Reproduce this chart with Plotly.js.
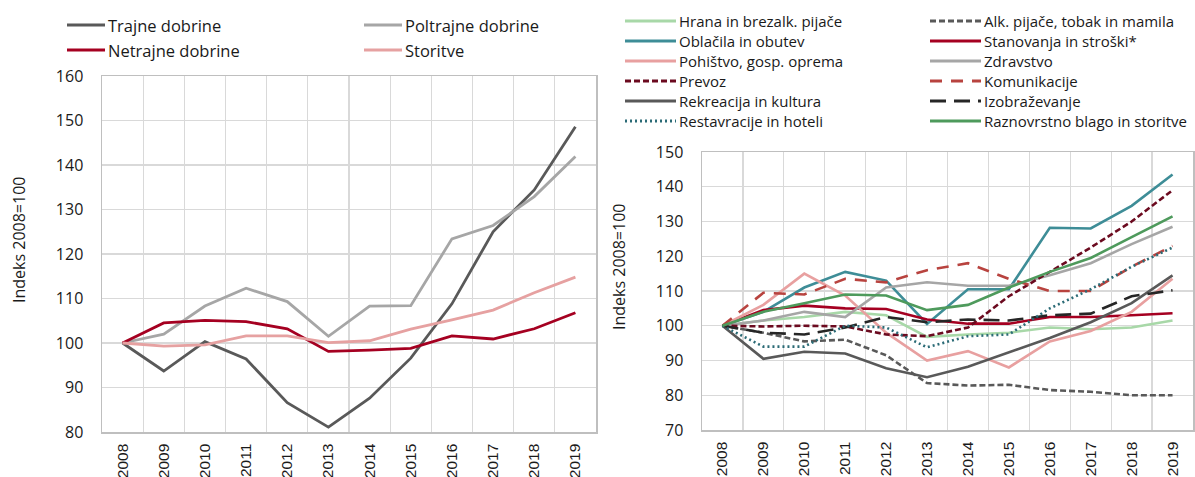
<!DOCTYPE html>
<html>
<head>
<meta charset="utf-8">
<script src="https://cdn.plot.ly/plotly-3.0.1.min.js"></script>
<style>html,body{margin:0;padding:0;background:#fff;}#chart{width:1195px;height:477px;}</style>
</head>
<body>
<div id="chart"></div>
<script>
// ---- data ----
const years = ["2008","2009","2010","2011","2012","2013","2014","2015","2016","2017","2018","2019"];

// left panel
const trajne    = [100, 93.7, 100.3, 96.4, 86.6, 81.1, 87.6, 96.6, 108.8, 125.0, 134.4, 148.6];
const poltrajne = [100, 102.0, 108.3, 112.3, 109.3, 101.5, 108.3, 108.4, 123.4, 126.4, 132.9, 141.9];
const netrajne  = [100, 104.5, 105.1, 104.8, 103.2, 98.1, 98.4, 98.8, 101.6, 100.9, 103.2, 106.8];
const storitve  = [100, 99.3, 99.6, 101.6, 101.6, 100.1, 100.5, 103.1, 105.2, 107.4, 111.3, 114.8];

// right panel
const hrana         = [100, 101.5, 102.5, 104.0, 103.0, 96.8, 97.5, 98.0, 99.5, 99.0, 99.5, 101.5];
const alk           = [100, 98.0, 95.5, 96.0, 91.5, 83.5, 82.8, 83.0, 81.5, 81.0, 80.0, 80.0];
const oblacila      = [100, 104.0, 111.0, 115.5, 113.0, 100.5, 110.5, 110.5, 128.2, 128.0, 134.5, 143.5];
const stanovanja    = [100, 104.5, 105.8, 105.0, 104.8, 101.8, 100.6, 100.6, 102.5, 102.5, 103.0, 103.6];
const pohistvo      = [100, 106.0, 115.0, 108.7, 98.0, 90.0, 92.7, 88.0, 95.5, 98.5, 104.0, 113.5];
const zdravstvo     = [100, 101.5, 104.0, 102.5, 111.0, 112.5, 111.5, 111.5, 114.5, 118.0, 123.5, 128.5];
const prevoz        = [100, 99.8, 100.0, 99.8, 97.5, 97.0, 99.5, 108.5, 115.5, 122.5, 130.0, 139.0];
const komunikacije  = [100, 109.5, 109.0, 113.5, 112.5, 116.0, 118.0, 113.5, 110.0, 110.0, 117.0, 123.0];
const rekreacija    = [100, 90.5, 92.5, 92.0, 87.8, 85.2, 88.2, 92.3, 96.5, 101.0, 106.5, 114.5];
const izobrazevanje = [100, 98.0, 97.5, 99.5, 102.5, 101.0, 101.8, 101.5, 103.0, 103.5, 108.5, 110.2];
const restavracije  = [100, 94.0, 94.0, 100.0, 99.5, 93.8, 97.0, 97.5, 105.0, 110.5, 117.0, 122.5];
const raznovrstno   = [100, 104.0, 106.5, 109.0, 108.7, 104.5, 106.0, 111.0, 115.5, 119.5, 125.5, 131.5];

const leftNames  = ["Trajne dobrine", "Poltrajne dobrine", "Netrajne dobrine", "Storitve"];
const rightNames = ["Hrana in brezalk. pijače", "Alk. pijače, tobak in mamila", "Oblačila in obutev",
  "Stanovanja in stroški*", "Pohištvo, gosp. oprema", "Zdravstvo", "Prevoz", "Komunikacije",
  "Rekreacija in kultura", "Izobraževanje", "Restavracije in hoteli", "Raznovrstno blago in storitve"];
const yTitle = "Indeks 2008=100";

// ---- styles ----
const W = 1195, H = 477;
const px = v => v / W;
const py = v => 1 - v / H;

const leftSeries = [
  {y: trajne,    color: "#595959", dash: "solid"},
  {y: poltrajne, color: "#a6a6a6", dash: "solid"},
  {y: netrajne,  color: "#a50021", dash: "solid"},
  {y: storitve,  color: "#e6a1a1", dash: "solid"}
];
const rightSeries = [
  {y: hrana,         color: "#a8d8a8", dash: "solid"},
  {y: alk,           color: "#595959", dash: "6px,3px"},
  {y: oblacila,      color: "#3e8d97", dash: "solid"},
  {y: stanovanja,    color: "#a50021", dash: "solid"},
  {y: pohistvo,      color: "#e8a0a0", dash: "solid"},
  {y: zdravstvo,     color: "#a6a6a6", dash: "solid"},
  {y: prevoz,        color: "#6b0a1f", dash: "6px,3px"},
  {y: komunikacije,  color: "#b8433f", dash: "12px,9px"},
  {y: rekreacija,    color: "#595959", dash: "solid"},
  {y: izobrazevanje, color: "#262626", dash: "16px,8px"},
  {y: restavracije,  color: "#2b6b76", dash: "2px,3px"},
  {y: raznovrstno,   color: "#4e9a5c", dash: "solid"}
];

const traces = [];
leftSeries.forEach((s, i) => traces.push({
  x: years, y: s.y, name: leftNames[i], type: "scatter", mode: "lines",
  xaxis: "x", yaxis: "y", line: {color: s.color, width: 2.8, dash: s.dash}, showlegend: false
}));
rightSeries.forEach((s, i) => traces.push({
  x: years, y: s.y, name: rightNames[i], type: "scatter", mode: "lines",
  xaxis: "x2", yaxis: "y2", line: {color: s.color, width: 2.6, dash: s.dash}, showlegend: false
}));

// legends drawn as shapes + text
const shapes = [], annotations = [];
function legendItem(x0, x1, tx, y, color, dash, text, size) {
  shapes.push({type: "line", xref: "paper", yref: "paper", x0: px(x0), x1: px(x1), y0: py(y), y1: py(y),
    line: {color: color, width: 3, dash: dash}});
  annotations.push({xref: "paper", yref: "paper", x: px(tx), y: py(y), xanchor: "left", yanchor: "middle",
    text: text, showarrow: false, font: {family: "Open Sans", size: size, color: "#1a1a1a"}});
}
const lRows = [25, 50];
leftSeries.forEach((s, i) => {
  const col = i % 2, row = Math.floor(i / 2);
  const x0 = col === 0 ? 67 : 364;
  legendItem(x0, x0 + 38, x0 + 39, lRows[row], s.color, s.dash, leftNames[i], 16.5);
});
const rRows = [21, 41, 61, 81, 101, 121];
rightSeries.forEach((s, i) => {
  const col = i % 2, row = Math.floor(i / 2);
  const x0 = col === 0 ? 625 : 930;
  legendItem(x0, x0 + 51, x0 + 52, rRows[row], s.color, s.dash, rightNames[i], 15);
});
annotations.push({xref: "paper", yref: "paper", x: px(19), y: py(240), text: yTitle, textangle: -90,
  showarrow: false, xanchor: "center", yanchor: "middle", font: {family: "Open Sans", size: 16, color: "#1a1a1a"}});
annotations.push({xref: "paper", yref: "paper", x: px(619), y: py(267), text: yTitle, textangle: -90,
  showarrow: false, xanchor: "center", yanchor: "middle", font: {family: "Open Sans", size: 16, color: "#1a1a1a"}});

const xBase = {
  type: "category", tickson: "boundaries", range: [-0.5, 11.5], showgrid: true, gridcolor: "#d9d9d9", gridwidth: 1.3,
  showline: true, linecolor: "#bfbfbf", linewidth: 1.5, mirror: true, ticks: "", tickangle: -90,
  tickfont: {family: "Liberation Sans", size: 15.5, color: "#1a1a1a"}, ticklabelstandoff: 4, zeroline: false, fixedrange: true
};
const yBase = {
  dtick: 10, showgrid: true, gridcolor: "#d9d9d9", gridwidth: 1.3, showline: true, linecolor: "#bfbfbf", linewidth: 1.5,
  mirror: true, ticks: "", tickfont: {family: "Open Sans", size: 16, color: "#1a1a1a"}, ticklabelstandoff: 14,
  zeroline: false, fixedrange: true
};

const layout = {
  width: W, height: H, margin: {l: 0, r: 0, t: 0, b: 0}, paper_bgcolor: "#fff", plot_bgcolor: "#fff",
  showlegend: false,
  xaxis:  Object.assign({}, xBase, {domain: [px(102), px(596)], anchor: "y"}),
  yaxis:  Object.assign({}, yBase, {domain: [py(432), py(76)], range: [80, 160], anchor: "x"}),
  xaxis2: Object.assign({}, xBase, {domain: [px(702), px(1193)], anchor: "y2"}),
  yaxis2: Object.assign({}, yBase, {domain: [py(430), py(152)], range: [70, 150], anchor: "x2"}),
  shapes: shapes, annotations: annotations
};

Plotly.newPlot("chart", traces, layout, {staticPlot: true, displayModeBar: false});
</script>
</body>
</html>
